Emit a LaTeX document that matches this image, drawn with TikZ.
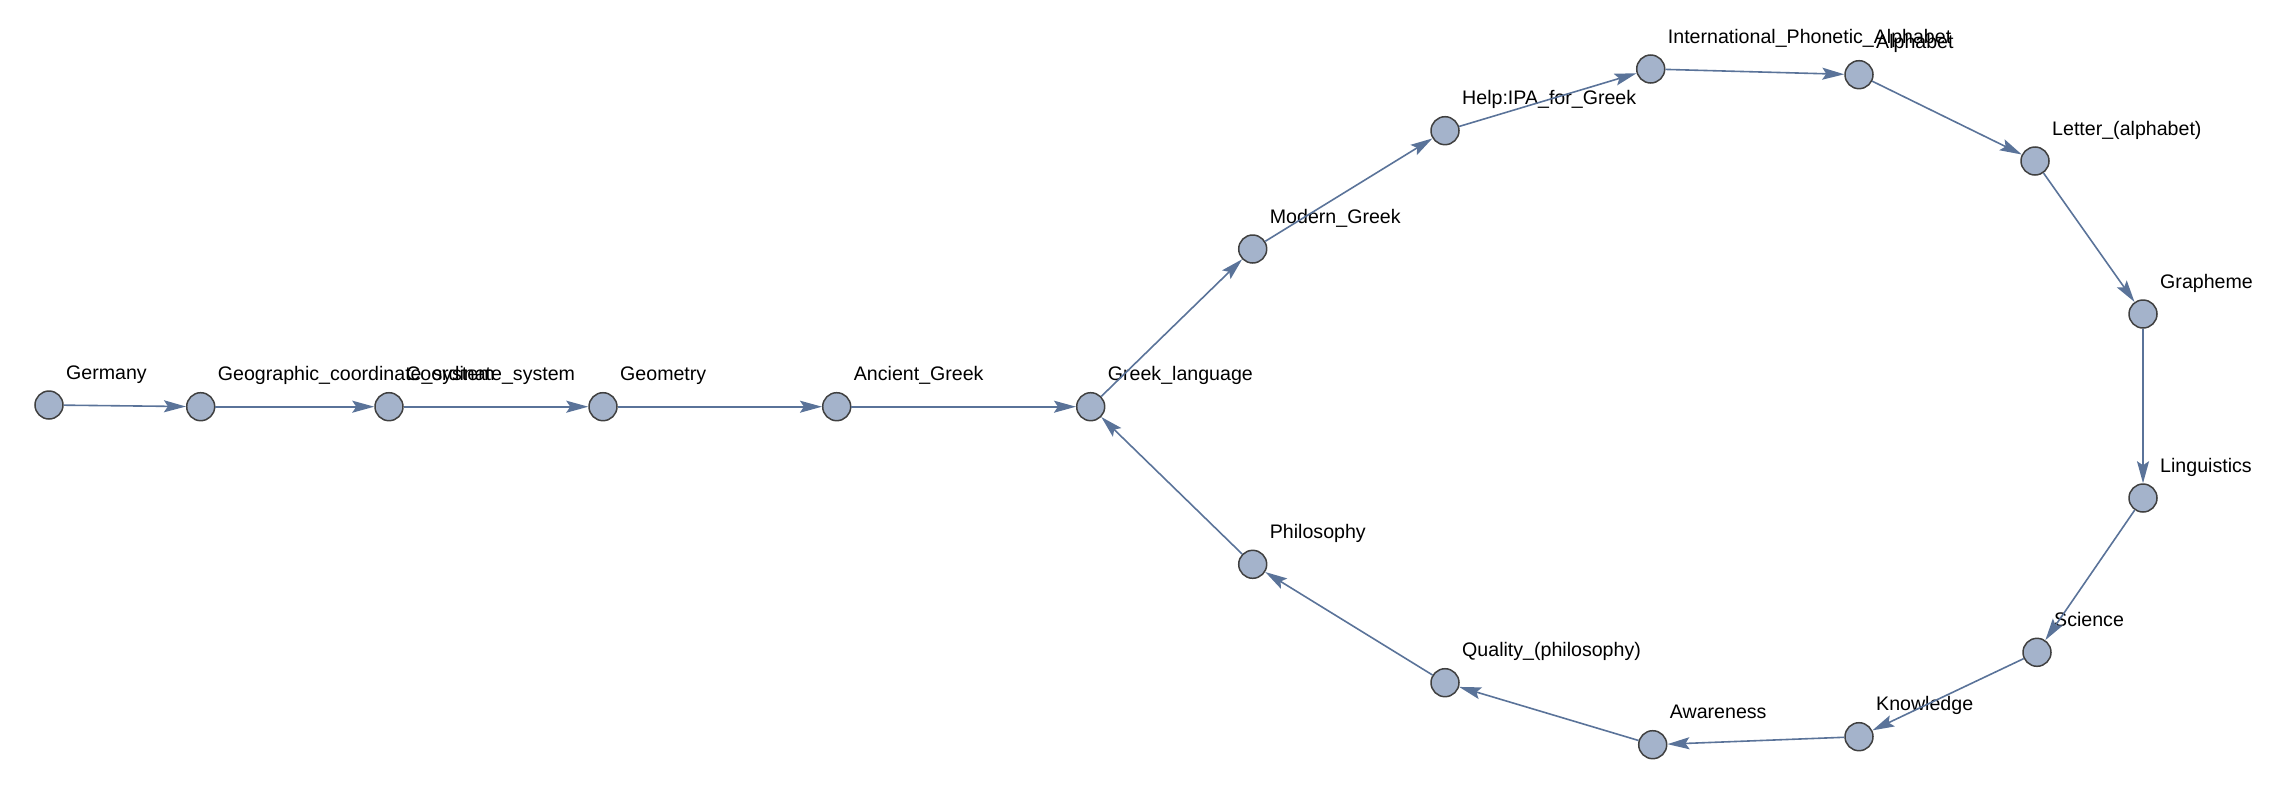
\documentclass[tikz,border=0pt]{standalone}
\usepackage{fontspec}
\setmainfont{Liberation Sans}
\usetikzlibrary{arrows.meta}
\definecolor{vfill}{HTML}{A4B3CB}
\definecolor{vdraw}{HTML}{404040}
\definecolor{ecol}{HTML}{5A7399}
\tikzset{
  vtx/.style={circle, fill=vfill, draw=vdraw, line width=1.5pt, minimum size=28pt, inner sep=0pt},
  lbl/.style={anchor=base west, inner sep=0pt, font=\fontsize{19.6}{23}\selectfont, text=black},
  edg/.style={draw=ecol, line width=1.6pt, -{Stealth[length=22pt,width=12pt,inset=4pt]}}
}
\begin{document}
\begin{tikzpicture}[x=1pt,y=-1pt]
\useasboundingbox (0,0) rectangle (2286,790);
\foreach \n/\x/\y/\t in {
  ger/49/405/Germany,
  geo/200.7/406.7/Geographic\_coordinate\_system,
  coo/389/406.7/Coordinate\_system,
  gem/603/406.7/Geometry,
  anc/836.7/406.7/Ancient\_Greek,
  grl/1090.7/406.7/Greek\_language,
  mod/1252.7/249/Modern\_Greek,
  hlp/1445/130.7/Help:IPA\_for\_Greek,
  ipa/1650.7/69/International\_Phonetic\_Alphabet,
  alp/1859/74.7/Alphabet,
  let/2035/161/Letter\_(alphabet),
  gra/2143/314/Grapheme,
  lin/2143/498/Linguistics,
  sci/2037/652.3/Science,
  kno/1859/736.7/Knowledge,
  awa/1652.7/744.7/Awareness,
  qua/1445/682.7/Quality\_(philosophy),
  phi/1252.7/564.3/Philosophy}
{
  \node[vtx] (\n) at (\x,\y) {};
  \node[lbl] (\n-l) at (\x+17,\y-26) {\t};
}
\foreach \a/\b in {ger/geo, geo/coo, coo/gem, gem/anc, anc/grl, grl/mod, mod/hlp, hlp/ipa, ipa/alp, alp/let, let/gra, gra/lin, lin/sci, sci/kno, kno/awa, awa/qua, qua/phi, phi/grl}
{
  \draw[edg] (\a) -- (\b);
}
\end{tikzpicture}
\end{document}
